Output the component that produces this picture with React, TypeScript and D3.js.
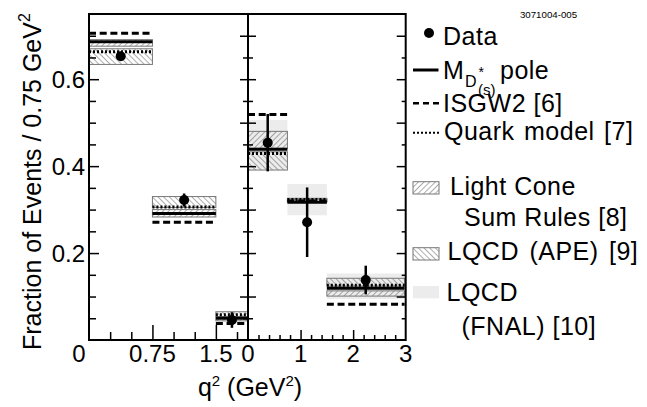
import React, { useEffect, useRef } from "react";
import * as d3 from "d3";

// q^2 bin edges (GeV^2) for the two panels
const kBinEdges = [0, 0.75, 1.5, 1.88];
const piBinEdges = [0, 0.75, 1.5, 2.98];

// measured fractions
const kData = [0.653, 0.322, 0.046];
const kDataErr = [0.009, 0.015, 0.018];
const piData = [0.454, 0.271, 0.138];
const piDataErr = [0.066, 0.08, 0.033];

// model predictions
const kPole = [0.686, 0.291, 0.05];
const piPole = [0.439, 0.317, 0.119];
const kIsgw2 = [0.706, 0.271, 0.038];
const piIsgw2 = [0.519, 0.32, 0.082];
const kQuark = [0.663, 0.306, 0.058];
const piQuark = [0.429, 0.323, 0.126];

// band predictions (low / high)
const kLcsrLo = [0.676, 0.283, 0.044];
const kLcsrHi = [0.691, 0.3, 0.052];
const piLcsrLo = [0.441, 0.318, 0.101];
const piLcsrHi = [0.48, 0.326, 0.113];
const kApeLo = [0.634, 0.305, 0.054];
const kApeHi = [0.67, 0.33, 0.065];
const piApeLo = [0.391, 0.318, 0.124];
const piApeHi = [0.433, 0.324, 0.142];
const piFnalLo = [0.391, 0.287, 0.094];
const piFnalHi = [0.506, 0.359, 0.153];

// tick labels
const yTickValues = [0.2, 0.4, 0.6];
const kTickValues = [0, 0.75, 1.5];
const kTickLabels = ["0", "0.75", "1.5"];
const piTickValues = [0, 1, 2, 3];
const piTickLabels = ["0", "1", "2", "3"];

const FONT = "'Liberation Sans', Arial, Helvetica, sans-serif";

export default function App() {
  const ref = useRef<SVGSVGElement>(null);

  useEffect(() => {
    const svg = d3.select(ref.current);
    svg.selectAll("*").remove();
    svg.attr("font-family", FONT);

    const top = 14, bottom = 340;
    const xL0 = 89, xMid = 248, xR1 = 405.7;

    const y = d3.scaleLinear().domain([0, 0.75]).range([bottom, top]);
    const xK = d3.scaleLinear().domain([0, 1.88]).range([xL0, xMid]);
    const xPi = d3.scaleLinear().domain([0, 3]).range([xMid, xR1]);

    // hatch patterns
    const defs = svg.append("defs");
    function hatch(id: string, angle: number) {
      const p = defs.append("pattern")
        .attr("id", id)
        .attr("patternUnits", "userSpaceOnUse")
        .attr("width", 4)
        .attr("height", 4)
        .attr("patternTransform", "rotate(" + angle + ")");
      p.append("line")
        .attr("x1", 0).attr("y1", -1).attr("x2", 0).attr("y2", 5)
        .attr("stroke", "#4a4a4a").attr("stroke-width", 0.9);
    }
    hatch("lcsr", 45);
    hatch("ape", -45);

    function band(g: any, x: any, edges: number[], lo: number[], hi: number[], fill: string, stroke: string) {
      g.selectAll(null)
        .data(lo)
        .enter()
        .append("rect")
        .attr("x", (d: number, i: number) => x(edges[i]))
        .attr("width", (d: number, i: number) => x(edges[i + 1]) - x(edges[i]))
        .attr("y", (d: number, i: number) => y(hi[i]))
        .attr("height", (d: number, i: number) => y(d) - y(hi[i]))
        .attr("fill", fill)
        .attr("stroke", stroke)
        .attr("stroke-width", stroke === "none" ? 0 : 1);
    }

    function level(g: any, x: any, edges: number[], vals: number[], dash: string | null, width: number) {
      g.selectAll(null)
        .data(vals)
        .enter()
        .append("line")
        .attr("x1", (d: number, i: number) => x(edges[i]))
        .attr("x2", (d: number, i: number) => x(edges[i + 1]))
        .attr("y1", (d: number) => y(d))
        .attr("y2", (d: number) => y(d))
        .attr("stroke", "#000")
        .attr("stroke-width", width)
        .attr("stroke-dasharray", dash);
    }

    function points(g: any, x: any, edges: number[], vals: number[], errs: number[]) {
      const mid = (i: number) => x((edges[i] + edges[i + 1]) / 2);
      g.selectAll(null)
        .data(vals)
        .enter()
        .append("line")
        .attr("x1", (d: number, i: number) => mid(i))
        .attr("x2", (d: number, i: number) => mid(i))
        .attr("y1", (d: number, i: number) => y(d + errs[i]))
        .attr("y2", (d: number, i: number) => y(d - errs[i]))
        .attr("stroke", "#000")
        .attr("stroke-width", 2.5);
      g.selectAll(null)
        .data(vals)
        .enter()
        .append("circle")
        .attr("cx", (d: number, i: number) => mid(i))
        .attr("cy", (d: number) => y(d))
        .attr("r", 5)
        .attr("fill", "#000");
    }

    const plot = svg.append("g");

    // D -> K panel
    band(plot, xK, kBinEdges, kLcsrLo, kLcsrHi, "url(#lcsr)", "#777");
    band(plot, xK, kBinEdges, kApeLo, kApeHi, "url(#ape)", "#777");
    level(plot, xK, kBinEdges, kIsgw2, "7,3.7", 3);
    level(plot, xK, kBinEdges, kQuark, "2,2", 3);
    level(plot, xK, kBinEdges, kPole, null, 3);
    points(plot, xK, kBinEdges, kData, kDataErr);

    // D -> pi panel
    band(plot, xPi, piBinEdges, piFnalLo, piFnalHi, "#ececec", "none");
    band(plot, xPi, piBinEdges, piLcsrLo, piLcsrHi, "url(#lcsr)", "#777");
    band(plot, xPi, piBinEdges, piApeLo, piApeHi, "url(#ape)", "#777");
    level(plot, xPi, piBinEdges, piIsgw2, "7,3.7", 3);
    level(plot, xPi, piBinEdges, piQuark, "2,2", 3);
    level(plot, xPi, piBinEdges, piPole, null, 3);
    points(plot, xPi, piBinEdges, piData, piDataErr);

    // ticks
    const yMinor = d3.range(1, 15).map(i => i * 0.05).filter(v => Math.round(v * 100) % 10 !== 0);
    const yTenth = d3.range(1, 8).map(i => i * 0.1);
    const yFifth = [0.2, 0.4, 0.6];
    const yOthers = d3.range(1, 15).map(i => i * 0.05).filter(v => Math.round(v * 100) % 20 !== 0);

    function ticks(axis: any, tx: number, ty: number, vals: number[], size: number) {
      const g = svg.append("g")
        .attr("transform", "translate(" + tx + "," + ty + ")")
        .call(axis.tickValues(vals).tickSize(size).tickFormat(() => ""));
      g.select(".domain").remove();
      g.selectAll("line").attr("stroke-width", 1.5);
    }
    ticks(d3.axisRight(y), xL0, 0, yOthers, 7);
    ticks(d3.axisRight(y), xL0, 0, yFifth, 10);
    ticks(d3.axisLeft(y), xMid, 0, yMinor, 5);
    ticks(d3.axisLeft(y), xMid, 0, yTenth, 8);
    ticks(d3.axisRight(y), xMid, 0, yMinor, 5);
    ticks(d3.axisRight(y), xMid, 0, yTenth, 8);
    ticks(d3.axisLeft(y), xR1, 0, yMinor, 4);
    ticks(d3.axisLeft(y), xR1, 0, yTenth, 9);
    ticks(d3.axisTop(xK), 0, bottom, [0.25, 0.5, 1, 1.25, 1.75], 8);
    ticks(d3.axisTop(xK), 0, bottom, [0.75, 1.5], 15);
    ticks(d3.axisTop(xPi), 0, bottom, d3.range(1, 15).map(i => i * 0.2).filter(v => Math.abs(v - Math.round(v)) > 0.01), 5);
    ticks(d3.axisTop(xPi), 0, bottom, [1, 2], 10);

    // frame
    svg.append("rect")
      .attr("x", xL0).attr("y", top)
      .attr("width", xR1 - xL0).attr("height", bottom - top)
      .attr("fill", "none").attr("stroke", "#000").attr("stroke-width", 2);
    svg.append("line")
      .attr("x1", xMid).attr("x2", xMid).attr("y1", top).attr("y2", bottom)
      .attr("stroke", "#000").attr("stroke-width", 2);

    // tick labels
    svg.selectAll(null)
      .data(yTickValues)
      .enter()
      .append("text")
      .attr("x", xL0 - 4)
      .attr("y", d => y(d) + 8.5)
      .attr("text-anchor", "end")
      .attr("font-size", 24)
      .text(d => String(d));
    svg.selectAll(null)
      .data(kTickValues)
      .enter()
      .append("text")
      .attr("x", d => xK(d) + (d === 0 ? -10 : 0))
      .attr("y", 362)
      .attr("text-anchor", "middle")
      .attr("font-size", 24)
      .text((d, i) => kTickLabels[i]);
    svg.selectAll(null)
      .data(piTickValues)
      .enter()
      .append("text")
      .attr("x", d => xPi(d))
      .attr("y", 362)
      .attr("text-anchor", "middle")
      .attr("font-size", 24)
      .text((d, i) => piTickLabels[i]);

    // axis titles
    const xt = svg.append("text")
      .attr("x", 250).attr("y", 396)
      .attr("text-anchor", "middle")
      .attr("font-size", 25);
    xt.append("tspan").text("q");
    xt.append("tspan").attr("dy", -10).attr("font-size", 15).text("2");
    xt.append("tspan").attr("dy", 10).text(" (GeV");
    xt.append("tspan").attr("dy", -10).attr("font-size", 15).text("2");
    xt.append("tspan").attr("dy", 10).text(")");

    const yt = svg.append("text")
      .attr("transform", "translate(41,350) rotate(-90)")
      .attr("text-anchor", "start")
      .attr("font-size", 25);
    yt.append("tspan").text("Fraction of Events / 0.75 GeV");
    yt.append("tspan").attr("dy", -11).attr("font-size", 16).text("2");

    // legend
    const lg = svg.append("g");
    lg.append("text").attr("x", 548.5).attr("y", 18).attr("text-anchor", "middle")
      .attr("font-size", 9.7).text("3071004-005");

    const lt = lg.append("g").attr("font-size", 25).attr("letter-spacing", 0.5);

    lg.append("circle").attr("cx", 429).attr("cy", 33).attr("r", 5).attr("fill", "#000");
    lt.append("text").attr("x", 443).attr("y", 45).text("Data");

    lg.append("line").attr("x1", 413).attr("x2", 438.5).attr("y1", 70).attr("y2", 70)
      .attr("stroke", "#000").attr("stroke-width", 3);
    const pole = lt.append("text").attr("x", 443).attr("y", 79.3).attr("letter-spacing", 0);
    pole.append("tspan").text("M");
    pole.append("tspan").attr("x", 465).attr("y", 87.3).attr("font-size", 16).text("D");
    pole.append("tspan").attr("x", 478.5).attr("y", 77).attr("font-size", 14).text("*");
    pole.append("tspan").attr("x", 478).attr("y", 95).attr("font-size", 15).text("(s)");
    pole.append("tspan").attr("x", 500).attr("y", 79.3).attr("letter-spacing", 0.5).text("pole");

    lg.append("line").attr("x1", 413).attr("x2", 439).attr("y1", 103.3).attr("y2", 103.3)
      .attr("stroke", "#000").attr("stroke-width", 2.5).attr("stroke-dasharray", "6,4");
    lt.append("text").attr("x", 443).attr("y", 111.7).text("ISGW2 [6]");

    lg.append("line").attr("x1", 413).attr("x2", 439).attr("y1", 132.7).attr("y2", 132.7)
      .attr("stroke", "#000").attr("stroke-width", 2).attr("stroke-dasharray", "2,2");
    lt.append("text").attr("x", 444).attr("y", 140).attr("word-spacing", 2).text("Quark model [7]");

    lg.append("rect").attr("x", 413).attr("y", 181.7).attr("width", 26).attr("height", 12.3)
      .attr("fill", "url(#lcsr)").attr("stroke", "#777");
    lt.append("text").attr("x", 450).attr("y", 195).text("Light Cone");
    lt.append("text").attr("x", 464).attr("y", 225.7).text("Sum Rules [8]");

    lg.append("rect").attr("x", 413).attr("y", 247.7).attr("width", 26).attr("height", 12.3)
      .attr("fill", "url(#ape)").attr("stroke", "#777");
    lt.append("text").attr("x", 447.5).attr("y", 260).attr("word-spacing", 3).text("LQCD (APE) [9]");

    lg.append("rect").attr("x", 413).attr("y", 286).attr("width", 26).attr("height", 12.3)
      .attr("fill", "#ececec");
    lt.append("text").attr("x", 446.5).attr("y", 300.7).text("LQCD");
    lt.append("text").attr("x", 461.5).attr("y", 335).text("(FNAL) [10]");
  }, []);

  return (
    <svg
      ref={ref}
      width={647}
      height={407}
      style={{ position: "absolute", left: 0, top: 0, background: "#fff" }}
    />
  );
}
